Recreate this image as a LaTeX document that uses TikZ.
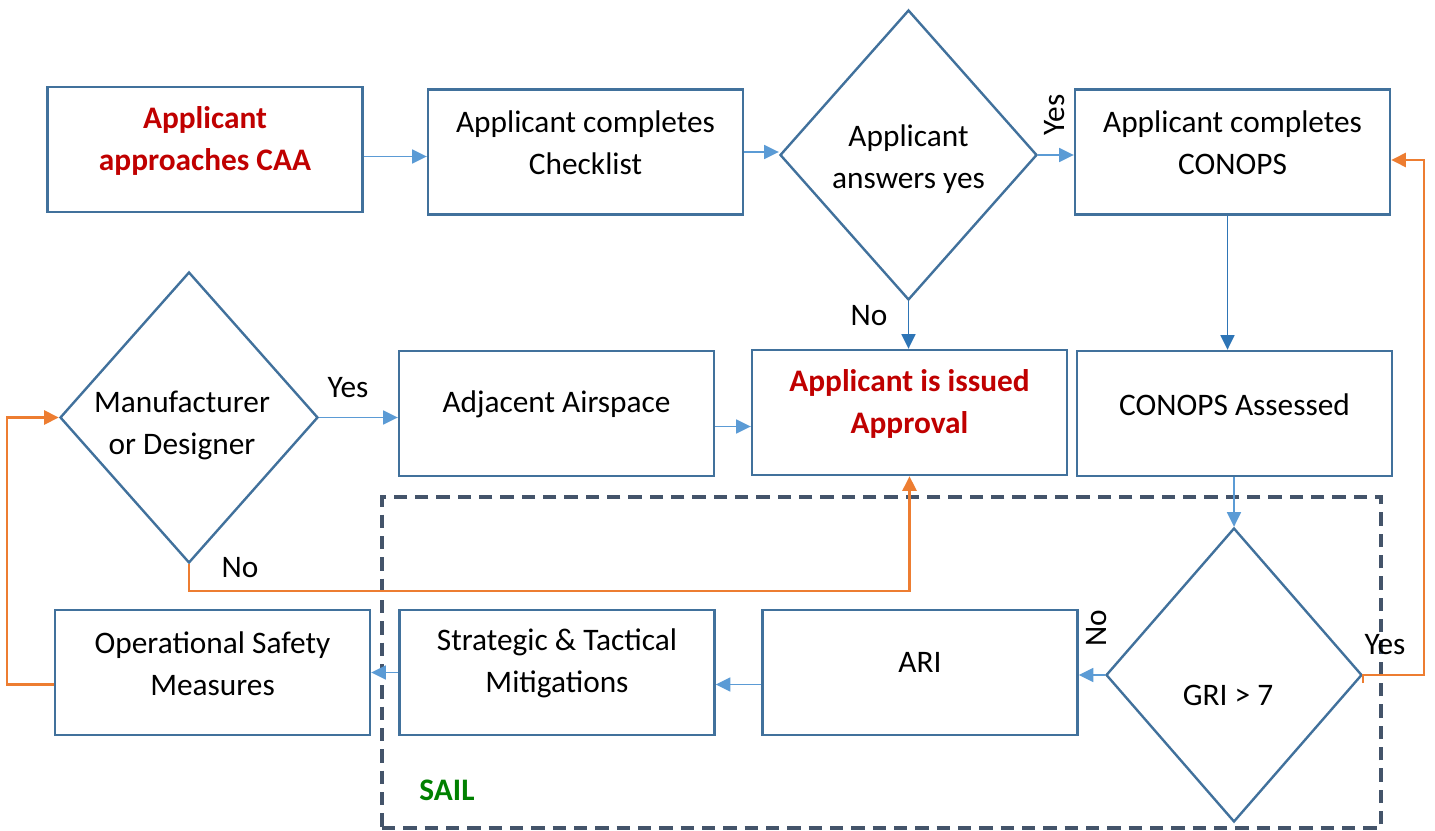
\documentclass[tikz,border=0pt]{standalone}
\usepackage{fontspec}
\setmainfont{Carlito}
\usetikzlibrary{shapes.geometric,arrows.meta,calc}
\definecolor{boxblue}{HTML}{41719C}
\definecolor{lineblue}{HTML}{5B9BD5}
\definecolor{darkblue}{HTML}{2E75B6}
\definecolor{orng}{HTML}{ED7D31}
\definecolor{dashgray}{HTML}{44546A}
\definecolor{redtxt}{HTML}{C00000}
\definecolor{greentxt}{HTML}{008000}
\newcommand\pxu{0.75pt}
\begin{document}
\begin{tikzpicture}[x=0.75pt,y=-0.75pt,
 boxnode/.style={draw=boxblue, line width=1.8pt, fill=white, minimum width=315*\pxu, minimum height=125*\pxu, inner sep=0pt},
 dia/.style={diamond, draw=boxblue, line width=1.8pt, fill=white, inner sep=0pt},
 txt/.style={align=center, font=\fontsize{23.5}{31.5}\selectfont, inner sep=0pt},
 redt/.style={align=center, inner sep=0pt, text=redtxt, font=\fontsize{23.5}{31.5}\selectfont\bfseries},
 conn/.style={draw=lineblue, line width=1.1pt, -{Triangle[length=11pt,width=10.5pt]}},
 dconn/.style={draw=darkblue, line width=1.1pt, -{Triangle[length=11pt,width=10.5pt]}},
 oconn/.style={draw=orng, line width=1.8pt, -{Triangle[length=11pt,width=10.5pt]}},
 dashbox/.style={draw=dashgray, line width=2.3pt, dash pattern=on 10pt off 6pt, inner sep=0pt}
]
\useasboundingbox (0,0) rectangle (1435,831);

% SAIL region
\node[dashbox, minimum width=999*\pxu, minimum height=331*\pxu] (sail) at (881.5,662.5) {};
\node[font=\fontsize{23.5}{28}\selectfont\bfseries, text=greentxt, inner sep=0pt] (saillbl) at (447,790) {SAIL};

% boxes
\node[boxnode] (b1) at (205,149.5) {};
\node[boxnode] (b2) at (585.5,152) {};
\node[boxnode] (b4) at (1232.5,152) {};
\node[boxnode] (b6) at (556.5,413.5) {};
\node[boxnode] (b7) at (909.5,412.5) {};
\node[boxnode] (b8) at (1234.5,413.5) {};
\node[boxnode] (ari) at (920,672.5) {};
\node[boxnode] (b11) at (557,672.5) {};
\node[boxnode] (b12) at (212.5,672.5) {};

% diamonds
\node[dia, minimum width=257*\pxu, minimum height=290*\pxu] (d1) at (908.5,155) {};
\node[dia, minimum width=258*\pxu, minimum height=291*\pxu] (d2) at (189,417.5) {};
\node[dia, minimum width=256*\pxu, minimum height=294*\pxu] (d3) at (1234,675) {};

% texts
\node[redt] (t1) at ($(b1)+(0,-9)$) {Applicant\\approaches CAA};
\node[txt] (t2) at ($(b2)+(0,-9)$) {Applicant completes\\Checklist};
\node[txt] (t4) at ($(b4)+(0,-9)$) {Applicant completes\\CONOPS};
\node[txt] (t6) at ($(b6)+(0,-9)$) {Adjacent Airspace};
\node[redt] (t7) at ($(b7)+(0,-9)$) {Applicant is issued\\Approval};
\node[txt] (t8) at ($(b8)+(0,-9)$) {CONOPS Assessed};
\node[txt] (tari) at ($(ari)+(0,-10)$) {ARI};
\node[txt] (t11) at ($(b11)+(0,-9)$) {Strategic \& Tactical\\Mitigations};
\node[txt] (t12) at ($(b12)+(0,-9)$) {Operational Safety\\Measures};
\node[txt] (td1) at ($(d1)+(0,4)$) {Applicant\\answers yes};
\node[txt] (td2) at ($(d2)+(-7,8)$) {Manufacturer\\or Designer};
\node[txt] (td3) at ($(d3)+(-6,20)$) {GRI > 7};

% connectors
\path ($(b1.east)+(0,7)$) coordinate (s1);
\draw[conn] (s1) -- (s1 -| b2.west);
\draw[conn] (b2.east) -- (b2.east -| d1.west);
\draw[conn] (d1.east) -- (d1.east -| b4.west);
\draw[dconn] (d1.south) -- (d1.south |- b7.north);
\path ($(b4.south)+(-5,0)$) coordinate (s4);
\draw[dconn] (s4) -- (s4 |- b8.north);
\draw[conn] (b8.south -| d3.north) -- (d3.north);
\draw[conn] (d3.west) -- (d3.west -| ari.east);
\path ($(ari.west)+(0,12)$) coordinate (sa);
\draw[conn] (sa) -- (sa -| b11.east);
\draw[conn] (b11.west) -- (b11.west -| b12.east);
\draw[conn] (d2.east) -- (d2.east -| b6.west);
\path ($(b6.east)+(0,13)$) coordinate (s6);
\draw[conn] (s6) -- (s6 -| b7.west);

\draw[oconn] ($(b12.west)+(0,12)$) -| ($(d2.west)+(-52,0)$) -- (d2.west);
\draw[oconn] (d2.south) |- ($(b7.south)+(0,115)$) -- (b7.south);
\draw[oconn] ($(d3.east)+(0,8)$) -- (d3.east) -- ++(61,0) |- ($(b4.east)+(0,8)$);

% labels
\node[txt, rotate=90] (ly1) at (1055,115) {Yes};
\node[txt] (ln1) at (869,316) {No};
\node[txt] (ly2) at (348,388) {Yes};
\node[txt] (ln2) at (240,568) {No};
\node[txt, rotate=90] (ln3) at (1097,628) {No};
\node[txt] (ly3) at (1385,645) {Yes};
\end{tikzpicture}
\end{document}
